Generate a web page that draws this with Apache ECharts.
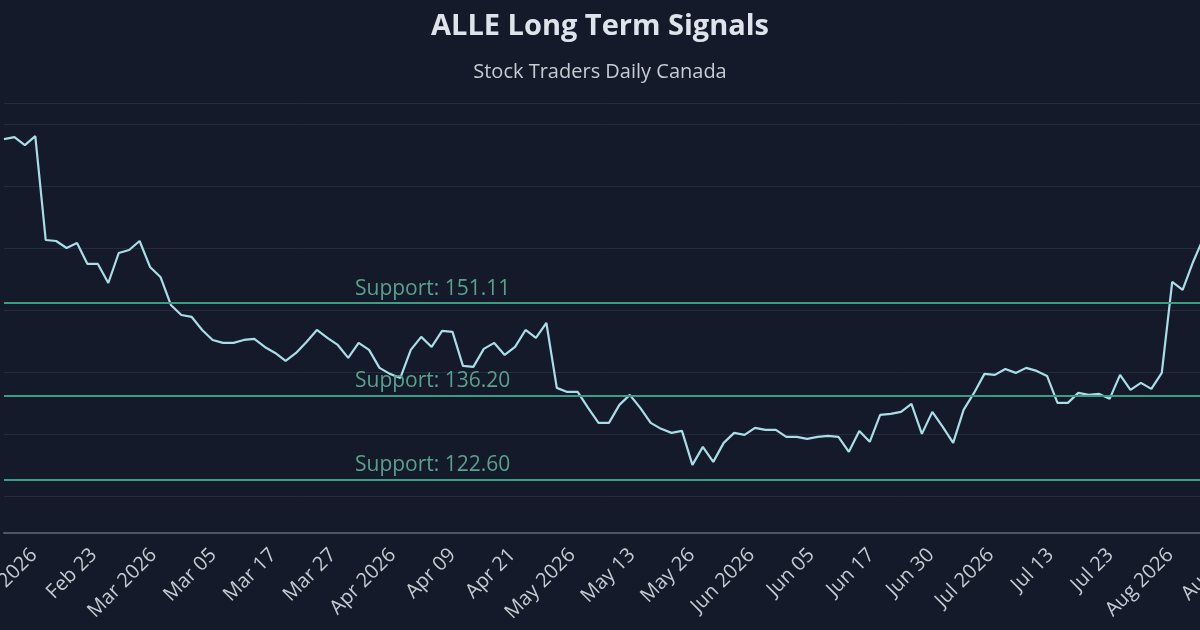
<!DOCTYPE html>
<html><head><meta charset="utf-8">
<script src="https://cdn.jsdelivr.net/npm/echarts@6/dist/echarts.min.js"></script>
<style>html,body{margin:0;padding:0;background:#141a29}#c{width:1200px;height:630px}</style>
</head><body><div id="c"></div>
<script>
const tickLabels = ['Feb 2026','Feb 23','Mar 2026','Mar 05','Mar 17','Mar 27','Apr 2026','Apr 09','Apr 21','May 2026','May 13','May 26','Jun 2026','Jun 05','Jun 17','Jun 30','Jul 2026','Jul 13','Jul 23','Aug 2026','Aug 12'];
const prices = [
 177.58,177.90,176.61,178.06,161.29,161.13,160.00,160.81,157.42,157.42,
 154.35,159.19,159.68,161.13,156.94,155.32,150.81,149.19,148.87,146.77,
 145.16,144.68,144.68,145.16,145.32,144.03,143.06,141.77,143.06,144.84,
 146.77,145.48,144.35,142.26,144.68,143.55,140.65,139.68,139.03,143.55,
 145.65,144.03,146.61,146.45,140.97,140.81,143.71,144.68,142.74,144.03,
 146.77,145.48,147.90,137.42,
 136.77,136.77,134.19,131.77,131.77,134.68,136.29,134.19,131.77,130.81,
 130.16,130.48,125.00,127.90,125.48,128.55,130.16,129.84,130.97,130.65,130.65,
 129.52,129.52,129.19,129.52,129.68,129.52,127.10,130.48,128.71,133.06,
 133.23,133.55,134.84,130.00,133.55,131.13,128.55,133.87,136.61,139.68,
 139.52,140.48,139.84,140.65,140.16,139.35,135.00,135.00,136.61,136.29,
 136.45,135.65,139.52,137.10,138.23,137.26,139.84,154.52,153.23,157.74,161.61
];
const supportLevels = [151.11, 136.20, 122.60];
const pointIndex = prices.map((_, i) => String(i));

const chart = echarts.init(document.getElementById('c'));
chart.setOption({
  backgroundColor: '#141a29',
  animation: false,
  title: [
    {text: 'ALLE Long Term Signals', left: 'center', top: 7,
     textStyle: {color: '#dfe3eb', fontSize: 29, fontWeight: 'bold', fontFamily: 'Open Sans'}},
    {text: 'Stock Traders Daily Canada', left: 'center', top: 57,
     textStyle: {color: '#c7cbd3', fontSize: 20, fontWeight: 'normal', fontFamily: 'Open Sans'}}
  ],
  grid: [
    {left: 4, right: -3.5, top: 103, bottom: 97, outerBoundsMode: 'none', containLabel: false},
    {left: 34, right: -30, top: 103, bottom: 97, outerBoundsMode: 'none', containLabel: false}
  ],
  xAxis: [
    {type: 'category', gridIndex: 0, data: pointIndex, boundaryGap: false,
     axisLine: {lineStyle: {color: '#4e5566', width: 2}}, axisTick: {show: false},
     axisLabel: {show: false}, splitLine: {show: false}},
    {type: 'category', gridIndex: 1, data: tickLabels, boundaryGap: false,
     axisLine: {show: false}, axisTick: {show: false}, splitLine: {show: false},
     axisLabel: {interval: 0, rotate: 45, color: '#c5c9d1', fontSize: 20, margin: 19, fontFamily: 'Open Sans',
                 showMinLabel: true, showMaxLabel: true, hideOverlap: false}}
  ],
  yAxis: [
    {type: 'value', gridIndex: 0, min: 114, max: 183.4,
     axisLabel: {show: false}, axisLine: {show: false}, axisTick: {show: false},
     splitLine: {lineStyle: {color: '#242b3a', width: 1}}},
    {type: 'value', gridIndex: 1, show: false, splitLine: {show: false}}
  ],
  series: [{
    type: 'line', xAxisIndex: 0, yAxisIndex: 0, data: prices, symbol: 'none',
    lineStyle: {color: '#a9dde8', width: 2.2},
    markLine: {
      symbol: 'none', silent: true,
      lineStyle: {color: '#3d9c84', width: 2, type: 'solid'},
      label: {position: 'insideStartTop', distance: [351, 4], color: '#58a18e', fontSize: 21,
              fontFamily: 'Open Sans', formatter: p => 'Support: ' + Number(p.value).toFixed(2)},
      data: supportLevels.map(v => ({yAxis: v}))
    }
  }]
});
</script></body></html>
